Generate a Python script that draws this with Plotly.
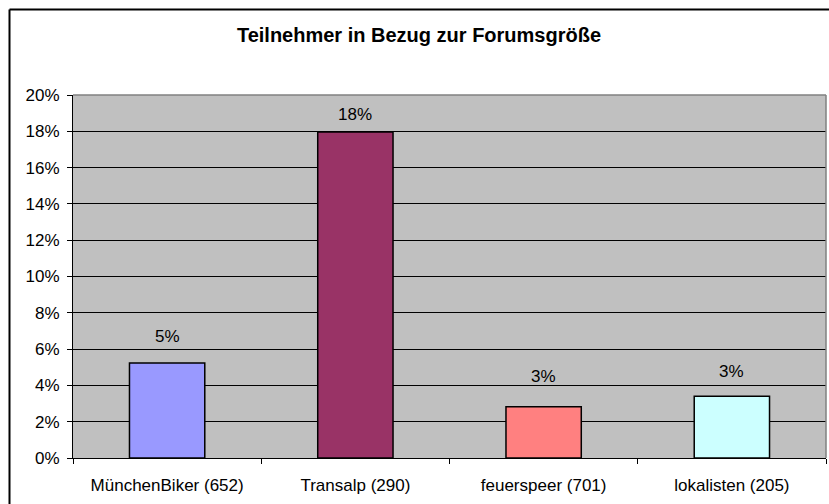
import plotly.graph_objects as go

categories = ["MünchenBiker (652)", "Transalp (290)", "feuerspeer (701)", "lokalisten (205)"]
values = [0.0523, 0.1796, 0.0283, 0.0340]
bar_colors = ["#9999FF", "#993366", "#FF8080", "#CCFFFF"]
y_ticks = [0, 0.02, 0.04, 0.06, 0.08, 0.10, 0.12, 0.14, 0.16, 0.18, 0.20]
y_tick_labels = ["0%", "2%", "4%", "6%", "8%", "10%", "12%", "14%", "16%", "18%", "20%"]
title = "Teilnehmer in Bezug zur Forumsgröße"

FONT = "Liberation Sans, Arial, sans-serif"

fig = go.Figure()
fig.add_trace(go.Bar(
    x=categories, y=values,
    marker=dict(color=bar_colors, line=dict(color="black", width=1.5)),
    hoverinfo="skip",
))

label_shift = [27, 18, 30, 25]
for c, v, s in zip(categories, values, label_shift):
    fig.add_annotation(x=c, y=v, text=f"{round(v*100):.0f}%", showarrow=False,
                       yshift=s, font=dict(family=FONT, size=17, color="black"),
                       xref="x", yref="y")

W, H = 829, 504
L, R, T, B = 73, 3, 95, 46
pw, ph = W - L - R, H - T - B
ox = (9.5 - L) / pw
oy = (H - B - 9.5) / ph

fig.update_layout(
    width=W, height=H,
    margin=dict(l=L, r=R, t=T, b=B, pad=0),
    paper_bgcolor="white", plot_bgcolor="#C0C0C0",
    bargap=0.6,
    showlegend=False,
    title=dict(text=f"<b>{title}</b>", x=419 / W, xanchor="center",
               y=1 - 35 / H, yanchor="middle",
               font=dict(family=FONT, size=20, color="black")),
    font=dict(family=FONT, size=17, color="black"),
    xaxis=dict(showgrid=False, showline=True, linecolor="black", linewidth=1,
               ticks="outside", tickson="boundaries", ticklen=5, tickcolor="black",
               ticklabelstandoff=12,
               tickfont=dict(family=FONT, size=17), fixedrange=True),
    yaxis=dict(range=[0, 0.2], tickvals=y_ticks, ticktext=y_tick_labels,
               showgrid=True, gridcolor="black", gridwidth=1,
               showline=True, linecolor="black", linewidth=1,
               ticks="outside", ticklen=5, tickcolor="black",
               ticklabelstandoff=4,
               tickfont=dict(family=FONT, size=17), zeroline=False, fixedrange=True),
    shapes=[
        dict(type="line", xref="paper", yref="paper", x0=0, x1=1, y0=1, y1=1,
             line=dict(color="#808080", width=1.5)),
        dict(type="line", xref="paper", yref="paper", x0=1, x1=1, y0=0, y1=1,
             line=dict(color="#808080", width=1.5)),
        dict(type="line", xref="paper", yref="paper", x0=ox, x1=1.2, y0=oy, y1=oy,
             line=dict(color="black", width=2)),
        dict(type="line", xref="paper", yref="paper", x0=ox, x1=ox, y0=-0.3, y1=oy,
             line=dict(color="black", width=2)),
    ],
)

fig.write_html("out.html", config={"displayModeBar": False},
               post_script="document.body.style.margin='0px';document.body.style.overflow='hidden';")
